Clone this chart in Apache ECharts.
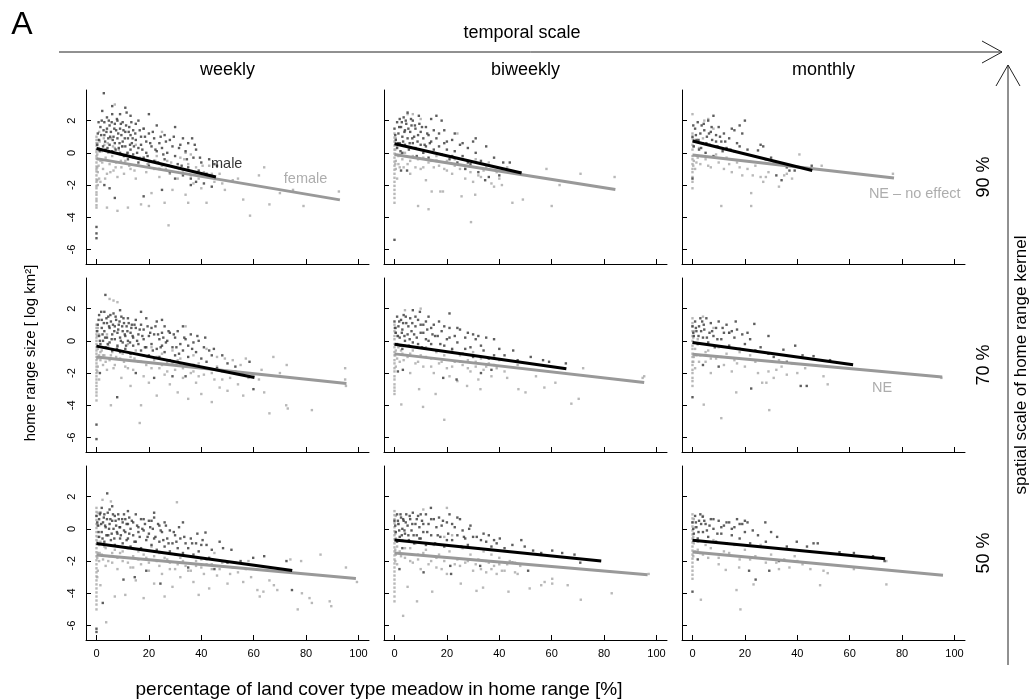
<!DOCTYPE html>
<html>
<head>
<meta charset="utf-8">
<script src="https://cdn.jsdelivr.net/npm/echarts@6/dist/echarts.min.js"></script>
<style>
html,body{margin:0;padding:0;background:#fff;}
#chart{width:1030px;height:700px;}
</style>
</head>
<body>
<div id="chart"></div>
<script>
// ---- labels and ticks ----
const temporalScales = ['weekly', 'biweekly', 'monthly'];
const kernelLevels = ['90 %', '70 %', '50 %'];
const xTicks = [0, 20, 40, 60, 80, 100];
const yTicks = [-6, -4, -2, 0, 2];

// ---- observations: [meadow %, log home range size] ----
// 90 % kernel
const maleW90 = [[0.5,1.2],[1,0.8],[1.5,1.6],[2,2.0],[2.5,0.4],[3,1.9],[3,1.1],[3.5,0.2],[4,1.5],[4,2.2],[4.5,0.9],[5,1.7],[5,0.5],[5.5,1.3],[6,2.4],[6,0.1],[6.5,1.0],[7,1.8],[7,0.6],[7.5,1.4],[8,0.9],[8,2.0],[8.5,0.3],[9,1.5],[9,0.0],[9.5,1.1],[10,0.7],[10,1.9],[10.5,-0.2],[11,1.3],[11,0.4],[11.5,2.5],[12,0.9],[12,-0.4],[12.5,1.6],[13,0.2],[13,1.1],[13.5,0.6],[14,1.4],[14,-0.1],[15,0.8],[15,1.8],[16,0.3],[16,-0.6],[17,1.0],[17,0.5],[18,1.5],[18,-0.3],[19,0.7],[19,0.0],[20,1.2],[20,-0.8],[21,0.4],[22,0.9],[22,-0.5],[23,1.7],[23,0.1],[24,0.6],[24,-1.0],[25,0.3],[26,1.1],[26,-0.4],[27,0.0],[28,0.8],[28,-1.2],[29,0.4],[30,-0.2],[30,1.6],[31,-0.7],[32,0.5],[33,-1.4],[33,0.9],[34,0.1],[35,-0.9],[35,0.6],[36,-1.6],[37,-0.3],[38,0.2],[38,-1.8],[39,-1.1],[40,-0.6],[41,-1.9],[42,-1.3],[43,-0.4],[44,-2.1],[45,-0.7],[46,-0.8],[3,-2.0],[7,-2.8],[5,-2.2],[18,-2.7],[25,-2.3],[36,-2.0],[30,-1.6],[0,-4.6],[0,-5.0],[0,-5.3],[2.8,3.7],[20,2.4],[11,2.8],
  [0.3,0.5],[0.8,1.9],[1.2,0.1],[1.8,1.1],[2.2,2.6],[2.7,1.4],[3.3,0.7],[3.8,1.3],[4.2,0.3],[4.7,2.0],[5.2,1.0],[5.8,1.9],[6.2,0.8],[6.8,1.5],[7.3,0.2],[7.8,2.1],[8.3,1.2],[8.8,0.6],[9.3,1.8],[9.8,0.4],[10.3,1.4],[10.8,0.9],[11.3,1.7],[11.8,0.0],[12.3,1.3],[12.8,0.5],[13.3,1.9],[13.8,0.9],[14.3,0.4],[14.8,1.2],[15.5,0.0],[16.5,1.4],[17.5,0.2],[18.5,1.0],[19.5,-0.2],[20.5,0.6],[21.5,1.3],[22.5,0.2],[23.5,-0.6],[24.5,1.0],[25.5,-0.1],[26.5,0.7],[27.5,-0.8],[29.5,1.0],[31.5,0.3],[34.5,-0.4],[36.5,0.9],[39.5,-0.3],[37.5,0.5],[32.5,-0.8],[16,2.0],[9,2.4],[6,2.9],[13,2.3]];
const femaleW90 = [[0,1.0],[0,0.6],[0,0.2],[0,-0.2],[0,-0.6],[0,-1.0],[0,-1.4],[0,-1.8],[0,-2.2],[0,-2.6],[0,-3.0],[0,-3.4],[0.5,0.8],[0.5,-0.4],[0.5,-1.2],[0.5,-2.0],[0.8,0.3],[0.8,-0.8],[1,-1.6],[1,1.3],[1.5,-0.5],[2,0.1],[2.5,-1.0],[3,0.5],[3.5,-0.3],[4,-1.3],[4.5,0.0],[5,-0.7],[5.5,0.9],[6,-0.2],[6.5,-1.1],[7,3.0],[7,0.3],[7.5,-0.6],[8,-1.5],[9,-0.1],[9.5,-0.9],[10,0.4],[10.5,-1.3],[11,-0.5],[12,-3.4],[12,0.0],[13,-1.0],[14,-0.3],[15,-1.6],[15,0.5],[16,-0.8],[17,-3.2],[18,-0.4],[18,1.5],[19,-1.2],[20,-0.6],[21,-2.5],[22,-1.0],[23,-0.2],[24,-1.5],[25,-0.8],[25,1.3],[26,-3.1],[27,-0.5],[27.5,-4.5],[28,-1.3],[29,-2.3],[30,-0.9],[31,-1.6],[32,-0.3],[33,-1.1],[34,-2.6],[34,0.0],[35,-0.7],[35,-3.1],[36,-1.4],[36,-0.1],[37,-1.9],[38,-0.9],[39,-1.6],[40,-2.2],[41,-1.2],[42,-3.1],[43,-0.8],[45,-1.8],[47,-1.3],[49,-2.3],[52,-1.7],[56,-2.9],[58.6,-3.9],[62,-1.4],[64,-0.9],[66,-3.2],[70,-2.5],[75,-2.3],[79,-3.3],[92.5,-2.4],[20,-3.3],[8,-3.6],[4,-3.4],
  [0,0.8],[0,0.45],[0,0.05],[0,-0.35],[0,-0.85],[0,-1.15],[0,-1.65],[0,-2.05],[0,-2.45],[0,-2.85],[0,-3.25],[0.3,-0.1],[0.3,-0.9],[0.3,-1.7],[0.3,0.6],[1.2,0.7],[1.5,-1.8],[2.2,-0.6],[2.8,0.9],[3.3,-1.6],[4.3,0.6],[5.3,-1.2],[6.3,0.4],[7.3,-0.9],[8.5,0.2],[9.3,-0.5],[11.5,-0.1],[12.5,-0.8],[14.5,-1.1],[16.5,-0.3],[19.5,-0.7],[22.5,-0.5],[26.5,-1.0],[28.5,-0.6],[31.5,-1.0],[33.5,-0.4],[37.5,-1.2],[40.5,-0.8],[44,-1.3],[48,-1.9],[54,-1.6]];
const maleB90 = [[0,1.5],[0.5,0.8],[1,1.9],[1,0.3],[1.5,1.2],[2,2.1],[2,0.6],[2.5,1.6],[3,0.0],[3,1.0],[3.5,2.2],[4,0.5],[4,1.4],[4.5,1.8],[5,2.5],[5,0.9],[5.5,0.2],[6,1.3],[6.5,1.7],[7,0.6],[7,2.0],[7.5,1.0],[8,0.3],[8,1.5],[8.5,-0.2],[9,1.1],[9.5,1.8],[10,0.5],[10,1.3],[11,0.0],[11,0.9],[12,1.6],[12,0.4],[13,-0.3],[13,1.1],[14,0.7],[14,2.1],[15,0.2],[16,0.9],[16,-0.5],[17,0.4],[17,1.2],[18,2.0],[18,-0.1],[19,0.6],[20,0.2],[21,-0.4],[22,0.8],[23,0.1],[24,-0.6],[25,0.5],[26,-0.2],[27,-1.0],[28,0.3],[29,-0.7],[30,0.7],[31,0.0],[32,-1.2],[33,-0.5],[34.6,-1.7],[36,-1.5],[38,-0.3],[40,-1.4],[41.5,-0.6],[44,-0.6],[2.5,-1.1],[4.8,-1.1],[0,-5.4],
  [0.3,1.1],[1.3,0.6],[1.8,1.6],[2.3,0.1],[2.8,1.9],[3.3,0.7],[3.8,1.3],[4.3,2.0],[5.3,1.5],[5.8,0.6],[6.3,2.1],[6.8,0.9],[7.8,1.7],[8.8,0.7],[9.3,2.3],[10.5,1.6],[11.5,0.5],[12.5,1.2],[13.5,0.6],[15,1.4],[16,2.3],[19,1.4],[20,0.7],[22,-0.2],[23,1.2],[26,0.6],[28,-0.6],[31,0.9],[35,0.4]];
const femaleB90 = [[0,1.2],[0,0.7],[0,0.2],[0,-0.3],[0,-0.8],[0,-1.3],[0,-1.8],[0,-2.3],[0,-2.8],[0.5,0.9],[0.5,-0.5],[0.5,-1.0],[1,0.4],[1,-1.6],[1.5,-0.2],[2,-0.9],[3,-0.4],[4,0.0],[5,2.4],[5,-0.7],[6,-1.3],[7,2.4],[7,-0.2],[8,-0.9],[9,-0.4],[9,-3.3],[10,2.1],[10,-1.0],[11,-0.3],[12,-1.7],[13,-0.6],[13,-3.5],[14.2,-2.4],[15,-0.9],[16,-0.2],[17.5,-2.4],[18.5,-2.4],[19,-1.0],[20,-0.5],[22,-1.3],[23,-0.4],[24,1.2],[25,-1.0],[25.6,-2.7],[27,-1.6],[28,-0.5],[29,-1.2],[29.2,-4.3],[30,-1.8],[30.8,-2.6],[31,-0.4],[32,-1.4],[34,-1.1],[36,-0.6],[37,-1.9],[38,-2.1],[40,-1.6],[41,-2.0],[43,-0.9],[45,-3.1],[48,-1.2],[49,-2.9],[58,-1.0],[60,-3.3],[63,-2.0],[71,-1.3],[84,-1.5],
  [0,0.95],[0,0.45],[0,-0.05],[0,-0.55],[0,-1.05],[0,-1.55],[0,-2.05],[0,-2.55],[0,-3.1],[0.3,0.2],[0.3,-0.7],[1.5,-0.7],[2.5,-0.1],[3.5,-0.9],[6,-0.5],[8,-0.3],[11,-0.9],[14,-0.5],[17,-0.8],[20,-1.1],[23,-0.8],[27,-1.0],[33,-1.5],[35,-0.9],[39,-1.2]];
const maleM90 = [[0,1.0],[0,-1.6],[0.5,0.4],[1,1.5],[1.5,0.8],[2,1.9],[2.5,0.2],[3,1.2],[3.5,1.7],[4,0.6],[4.5,1.4],[5,0.0],[5.5,1.0],[6,2.0],[6.5,0.5],[7,1.3],[7.5,0.8],[8,2.3],[8,-0.2],[9,1.1],[9.5,0.4],[10,1.6],[11,0.7],[11.5,0.1],[12,1.2],[13,0.3],[14,0.9],[15,1.5],[16,0.1],[17,0.6],[18,1.7],[19,1.2],[20,2.0],[21,0.2],[25,0.15],[26,0.5],[27,0.4],[28,-0.4],[30,-0.3],[32,-1.4],[34,-1.7],[36,-0.9],[37,-1.1],[39,-1.1],[45.5,-0.8],
  [0.3,1.7],[1.3,1.1],[2.3,0.8],[3.3,0.3],[4.3,1.8],[5.3,0.6],[6.3,1.2],[7.3,1.6],[9,0.7],[10.5,1.0],[12.5,0.7],[14.5,0.2],[16,1.4],[18,0.4]];
const femaleM90 = [[0,2.4],[0,1.2],[0,0.5],[0,-0.2],[0,-0.7],[0,-1.2],[0,-1.8],[0,-2.2],[0.5,0.8],[0.5,-0.5],[1,-1.0],[2,-0.3],[3,-0.7],[4,0.9],[4.5,2.0],[5,-0.4],[6,2.1],[7,-0.9],[8,1.5],[9,-0.1],[10,-0.6],[11,-3.3],[12,-1.0],[13,-0.3],[15,-1.2],[17,-0.6],[19,-1.4],[22.4,-3.3],[22.4,-2.5],[23,-1.4],[24,-0.8],[26,-1.5],[27,-1.8],[29,-1.2],[31,-0.6],[33,-2.1],[35,-1.4],[38,-1.6],[40.8,-0.1],[49.3,-0.8],[76.5,-1.3],
  [0,0.9],[0,0.2],[0,-0.4],[0,-1.0],[0,-1.5],[0.3,0.4],[0.3,-0.8],[1.5,-0.6],[2.5,0.3],[3.5,-0.2],[6,-0.8],[14,-0.7],[18,-0.9],[21,-1.0],[28,-1.5],[36,-1.3]];

// 70 % kernel
const maleW70 = [[0.5,1.0],[1,0.3],[1,1.6],[1.5,-0.2],[2,0.8],[2,1.3],[2.5,0.0],[3,1.8],[3,0.6],[3.4,2.85],[3.5,-0.4],[4,1.1],[4,0.2],[4.5,1.5],[5,-0.1],[5,0.8],[5.5,1.2],[6,0.4],[6,-0.6],[6.5,1.7],[7,0.1],[7,0.9],[7.5,1.3],[8,-0.3],[8,0.5],[8.5,1.0],[9,0.2],[9,-0.7],[9.5,1.5],[10,0.6],[10,-0.1],[10.5,1.1],[11,0.3],[11,-0.5],[11.5,0.9],[12,1.4],[12,0.0],[13,0.5],[13,-0.8],[13.5,1.0],[14,0.2],[14,-0.3],[15,0.8],[15,1.3],[16,-0.2],[16,0.4],[17,1.0],[17,-0.6],[18,0.1],[18,0.7],[19,-0.4],[19,1.4],[20,0.3],[20,-0.9],[21,0.8],[21,-0.2],[22,0.4],[23,-0.5],[23,1.2],[24,0.1],[24,-1.0],[25,0.5],[25,-0.3],[26,0.9],[26,-0.7],[27,0.0],[28,-1.2],[28,0.5],[29,-0.4],[30,0.2],[30,-0.9],[31,0.6],[32,-0.2],[32,-1.4],[33,0.9],[33,-0.6],[34,0.1],[35,-1.0],[35,-0.3],[36,0.4],[37,-1.5],[37,-0.1],[38,-0.7],[39,0.0],[40,-1.1],[41,-0.4],[42,-1.3],[43,-0.6],[44.8,-0.5],[46,-1.7],[48,-0.9],[50,-1.4],[53,-1.6],[58.4,-1.3],[59.9,-3.0],[1.3,-2.0],[7.9,-3.5],[29,-2.2],[15,-2.0],[22,-2.3],[34,-2.2],[0,-5.2],[0,-6.1],
  [0.3,0.6],[0.8,1.3],[1.3,0.0],[1.8,1.8],[2.3,0.4],[2.8,1.1],[3.3,0.2],[3.8,1.4],[4.3,-0.2],[4.8,0.9],[5.3,1.6],[5.8,0.1],[6.3,1.0],[6.8,0.6],[7.3,1.5],[7.8,-0.5],[8.3,0.7],[8.8,1.2],[9.3,0.0],[9.8,0.9],[10.3,1.4],[10.8,0.4],[11.3,-0.3],[11.8,0.6],[12.3,1.1],[12.8,-0.1],[13.3,0.8],[13.8,0.3],[14.5,1.0],[15.5,0.0],[16.5,0.7],[17.5,0.3],[18.5,-0.4],[19.5,0.9],[20.5,0.5],[21.5,-0.6],[22.5,0.9],[23.5,0.4],[24.5,-0.4],[25.5,0.2],[26.5,-0.1],[27.5,0.6],[29.5,0.4],[30.5,-0.4],[31.5,-0.8],[33.5,0.2],[36.5,-0.5],[38.5,0.3],[41.5,0.2],[44,-0.9],[17,1.8],[9,1.9],[25,1.3]];
const femaleW70 = [[0,1.0],[0,0.6],[0,0.2],[0,-0.2],[0,-0.6],[0,-1.0],[0,-1.4],[0,-1.8],[0,-2.2],[0,-2.6],[0,-3.0],[0,-3.4],[0,-3.7],[0.5,0.8],[0.5,-0.5],[0.5,-1.6],[1,-0.9],[1,-2.4],[1,0.4],[1.5,-1.2],[2,-0.6],[2.5,-1.5],[3,-0.9],[4,-1.8],[4.5,-0.3],[5,-1.2],[5,2.6],[5.5,-4.0],[6,-0.7],[6.5,2.5],[7,-1.5],[8,2.4],[8,-0.4],[9,-1.1],[9.5,-2.3],[10,-0.8],[11,-1.6],[12,-0.2],[13,-2.8],[13,-1.0],[14,-1.8],[15,-0.6],[16,-1.3],[16.5,-5.1],[17,-4.0],[18,-2.2],[18,-0.9],[19,-1.5],[20,-2.6],[21,-0.4],[22,-1.2],[23,-3.4],[24,-1.7],[25,-0.8],[26,-2.1],[27,-1.3],[28,-2.7],[29,-0.6],[30,-1.8],[31,-3.2],[32,-1.1],[33,-2.3],[34,0.9],[34,-1.5],[35,-3.6],[36,-2.0],[37,-0.9],[38,-2.6],[39,-1.4],[40,-3.3],[41,-2.1],[42,-0.5],[43,-1.7],[44,-3.8],[45,-2.4],[46,-1.0],[47,-2.9],[48,-1.9],[49,-1.1],[50,-3.1],[51,-2.3],[52,-1.2],[54,-2.7],[56,-3.4],[57,-1.1],[60,-2.1],[62,-2.4],[64,-3.2],[66,-4.5],[67.5,-1.0],[70,-2.0],[72.6,-1.5],[72.4,-4.0],[73,-4.2],[82.2,-4.3],[94.9,-1.7],[94.9,-2.4],[95.2,-2.8],
  [0,0.8],[0,0.4],[0,0.0],[0,-0.4],[0,-0.8],[0,-1.2],[0,-1.6],[0,-2.0],[0,-2.4],[0,-2.8],[0,-3.2],[0.3,-0.3],[0.3,-1.1],[0.3,-1.9],[0.3,0.3],[1.5,-0.7],[2.5,-0.9],[3.5,-1.3],[4,0.4],[5.5,-0.9],[6.5,-1.7],[7.5,-1.0],[9,-0.6],[10.5,-1.3],[12,-1.7],[14.5,-1.1],[17,-1.3],[19.5,-1.0],[21,-1.7],[23,-1.0],[25,-1.5],[27,-1.9],[29,-1.4],[31,-1.2],[33,-1.7],[35,-1.5],[37,-1.9],[39,-2.2],[42,-1.7],[44,-2.0],[46,-1.6],[48,-2.4],[53,-1.9],[55,-1.5],[58,-2.3],[63,-1.8]];
const maleB70 = [[0,1.2],[0.5,0.5],[1,1.5],[1,-0.2],[1.5,0.9],[2,0.2],[2.5,1.3],[3,-0.5],[3,0.7],[3.5,1.6],[4,0.0],[4.5,1.1],[5,0.4],[5.5,-0.3],[6,1.4],[6.5,0.6],[7,1.9],[7,-0.1],[8,0.9],[8.5,0.2],[9,1.3],[9.7,1.8],[10,0.5],[10.5,-0.4],[11,1.0],[12,0.1],[12.5,0.7],[13,1.5],[14,-0.2],[14.5,0.4],[15,1.0],[16,-0.6],[16.5,0.3],[17,1.2],[18,0.6],[19,-0.3],[20,0.1],[21,0.8],[21,1.7],[22,-0.5],[23,0.3],[24,-0.1],[25,0.7],[26,-0.8],[27,0.2],[28,0.5],[29,-0.4],[30,-1.0],[31,0.1],[32,0.3],[34,-0.6],[35,0.2],[36,-1.1],[38,-0.9],[40,-0.5],[42,-0.9],[45.3,-0.6],[47,-1.2],[52,-1.0],[56.7,-1.2],[59,-1.3],[65.4,-1.4],[1.3,-1.9],[3.2,-1.8],[18.6,-2.3],[23.7,-2.4],[37,-1.8],[33,-2.0],
  [0.3,0.8],[1.3,0.3],[1.8,1.2],[2.3,-0.3],[2.8,0.5],[3.3,1.1],[3.8,0.3],[4.3,1.5],[5.3,0.9],[5.8,0.1],[6.8,1.1],[7.5,0.4],[8,1.5],[9,-0.2],[10,1.0],[11,0.5],[12,1.2],[13,0.0],[14,0.8],[15.5,0.3],[17.5,-0.2],[19,0.9],[21,0.2],[24,0.8],[27,-0.5],[30,0.4],[33,-0.3],[38,0.1]];
const femaleB70 = [[0,1.0],[0,0.6],[0,0.1],[0,-0.4],[0,-0.9],[0,-1.4],[0,-1.9],[0,-2.4],[0,-2.9],[0,-3.3],[0.5,0.8],[0.5,-0.6],[0.5,-1.6],[1,0.3],[1,-1.1],[1.5,-0.4],[2,-1.3],[2.6,-3.95],[3,-0.8],[4,1.9],[4,-0.3],[5,-1.0],[6,-2.0],[7,-0.6],[8,-1.4],[9.4,-3.0],[10,-0.9],[10,2.0],[10.9,-4.1],[11,-1.6],[12,-0.4],[14,-1.1],[15,-2.0],[15.7,-3.3],[16,-0.7],[17,-1.4],[19,-4.9],[19,-0.9],[20,-1.7],[21,-2.2],[22,-0.6],[23,-1.3],[24,-2.5],[25,-0.9],[26,-1.5],[27.7,-2.8],[28,-1.2],[29,-1.9],[30,-0.7],[31,-1.6],[32,-2.4],[32.8,-3.0],[33,-1.1],[34,-1.8],[36,-1.4],[37,-2.2],[39,-1.7],[40,-1.2],[43,-2.3],[47.3,-3.0],[47,-1.5],[50,-3.2],[54,-2.2],[57.2,-2.9],[61.4,-2.6],[67.5,-3.9],[70.3,-3.6],[72,-1.7],[94.7,-2.3],[95.3,-2.2],
  [0,0.8],[0,0.3],[0,-0.2],[0,-0.7],[0,-1.2],[0,-1.7],[0,-2.2],[0,-2.7],[0,-3.1],[0.3,0.5],[0.3,-0.9],[2.5,-0.6],[3.5,-1.2],[6,-0.8],[9,-1.3],[12,-1.0],[14,-1.6],[18,-1.3],[22,-1.6],[25,-1.3],[28,-1.7],[31,-1.3],[35,-1.6],[38,-1.5],[42,-1.9]];
const maleM70 = [[0,0.9],[0,-3.5],[0.5,0.3],[1,1.2],[1.5,0.6],[2,-0.2],[2.5,0.9],[3,1.4],[3.7,1.2],[4,0.2],[4.5,0.7],[5.3,1.4],[6,-0.1],[6.5,0.5],[7,1.1],[8,0.3],[8.5,-0.4],[9,0.8],[10,1.2],[11,0.1],[12,0.5],[13,1.0],[14,-0.3],[15,0.6],[16,0.2],[17,0.7],[18,-0.5],[19,0.4],[20,-0.2],[22,0.1],[23.6,1.05],[24,-0.6],[26,-0.4],[29,0.3],[29,-0.8],[31,-1.0],[34.7,-0.55],[36,-1.3],[39.2,-0.3],[42,-0.9],[46.2,-0.95],[52.5,-1.2],[22.4,-2.96],[41.3,-2.8],[43.6,-2.8],[10,-1.6],[4,-1.5],
  [0.3,0.5],[1.3,0.8],[2.3,0.3],[3.3,0.6],[4.3,1.0],[5.5,0.2],[7.5,0.6],[9.5,0.1],[11.5,0.8],[14,0.5],[16.5,1.2],[21,0.5]];
const femaleM70 = [[0,1.4],[0,0.9],[0,0.3],[0,-0.3],[0,-0.8],[0,-1.3],[0,-1.8],[0,-2.3],[0,-2.8],[0.5,0.6],[0.5,-1.0],[1,-0.5],[1,-1.7],[2,0.1],[3,-0.9],[4,1.5],[4.3,-3.96],[5,-1.3],[6,-0.6],[7,-2.0],[8,0.8],[9,-1.1],[10,-0.4],[11,-4.8],[12,-1.5],[13,-0.8],[14,0.5],[15,-1.9],[16,-1.2],[16.7,-3.2],[18,-0.7],[20,-1.6],[22,-0.9],[25,-2.0],[26.6,-2.6],[28.2,-2.6],[29,-1.9],[29.3,-4.3],[31,-2.3],[33,-1.2],[34,-1.6],[36,-2.1],[38,-1.4],[40,-2.0],[43,-1.7],[50,-2.2],[51.6,-2.7],[95,-2.3],
  [0,1.1],[0,0.6],[0,0.0],[0,-0.5],[0,-1.0],[0,-1.5],[0,-2.0],[0,-2.5],[0.3,0.2],[0.3,-1.3],[1.5,-0.9],[2.5,-1.3],[5,-0.7],[7,-1.1],[11,-1.0],[17,-1.4],[24,-1.3],[32,-1.8]];

// 50 % kernel
const maleW50 = [[0,0.8],[0.5,0.2],[1,0.6],[1,-0.5],[1.5,1.0],[2,-0.2],[2.5,0.4],[3,0.9],[3,-0.8],[3.5,0.1],[4.1,2.2],[4,0.6],[4.5,-0.4],[5,0.3],[5,1.2],[5.5,-0.7],[6,0.5],[6.5,0.0],[7,0.8],[7,-1.0],[7.5,0.2],[8,-0.3],[8.5,0.6],[9,-0.6],[9,0.1],[10,0.4],[10,-0.9],[10.5,0.9],[11,-0.2],[11.5,0.3],[12,-0.6],[12.5,0.7],[13,0.0],[13,-1.1],[14,0.4],[14,-0.4],[15,0.9],[15,-0.8],[16,0.1],[16.5,-0.5],[17,0.6],[17,-1.2],[18,-0.1],[18.5,0.3],[19,-0.7],[20,0.5],[20,-0.3],[21,-1.0],[21.5,0.0],[22,0.7],[22.5,-0.5],[23,-1.3],[24,0.2],[24,-0.8],[25,-0.2],[26,0.4],[26,-1.1],[27,-0.6],[28,-1.4],[28,-0.1],[29,-0.9],[30,-0.4],[31,-1.2],[32,-0.6],[33,0.4],[33,-1.5],[34,-0.9],[35,-1.2],[36,-0.6],[37,-1.6],[38,-0.9],[39,-1.4],[40,-1.0],[41.6,-0.23],[43,-1.8],[44,-1.3],[47,-0.8],[48.3,-1.2],[50,-2.1],[51.5,-1.3],[55,-2.0],[59.8,-1.8],[64,-1.7],[72.5,-2.0],[74.6,-3.8],[10.3,-3.15],[14.6,-3.0],[24.4,-3.4],[19,-2.6],[2.4,-4.6],[35,-2.4],[45,-2.5],[0,-6.2],[0,-6.4],
  [0.3,0.4],[0.8,-0.2],[1.3,0.9],[1.8,0.3],[2.3,-0.6],[2.8,0.7],[3.3,0.2],[3.8,-0.4],[4.3,1.0],[4.8,0.0],[5.3,0.6],[5.8,-0.3],[6.3,0.9],[6.8,-0.6],[7.3,0.5],[7.8,-0.2],[8.3,0.9],[8.8,0.1],[9.3,-0.4],[9.8,0.6],[10.5,-0.1],[11,0.6],[11.5,-0.7],[12,0.3],[12.5,-0.3],[13.5,0.5],[14.5,-0.8],[15.5,0.2],[16,-0.2],[17.5,0.0],[18,0.6],[19.5,-0.5],[20.5,0.1],[21,0.5],[22,-0.6],[23.5,0.3],[24.5,-0.1],[25.5,-0.7],[26.5,0.2],[27.5,-0.9],[29.5,-0.2],[30.5,-0.8],[31.5,0.1],[33.5,-0.5],[36.5,-0.9],[38.5,-0.3],[40.5,-0.7],[42,-1.0],[2,1.3],[6,1.4],[12,1.1],[22,1.0]];
const femaleW50 = [[0,1.3],[0,0.8],[0,0.3],[0,-0.2],[0,-0.7],[0,-1.2],[0,-1.7],[0,-2.2],[0,-2.7],[0,-3.2],[0,-3.7],[0,-4.2],[0,-4.7],[0,-5.0],[0.5,1.0],[0.5,-0.5],[0.5,-1.5],[0.5,-2.6],[1,0.2],[1,-1.0],[1,-2.0],[1.5,-0.8],[1.5,-3.5],[3.7,-5.8],[2,-1.6],[2.3,1.8],[3,-1.1],[3.5,-2.3],[4,-0.4],[5,-1.7],[5.5,1.7],[6,-2.1],[7,-1.3],[7,-4.2],[8,-2.5],[9,-1.5],[10,-2.0],[11,-4.1],[12,-1.2],[13,-2.4],[14,-1.7],[15,-3.2],[16,-1.4],[17,-2.2],[18,-4.3],[19,-1.8],[20,-2.6],[21,-1.1],[22,-3.4],[23,-2.0],[24,-1.5],[25,-2.8],[26,-4.2],[27,-1.9],[28,-2.5],[29,-3.6],[30,-1.6],[30.7,1.65],[31,-2.2],[32,-3.0],[33,-2.0],[35,-2.6],[36,-1.7],[37,-3.3],[38,-2.3],[39,-4.1],[40,-1.9],[41,-2.8],[42,-2.2],[43,-3.7],[44,-2.5],[45,-1.5],[46,-2.9],[48,-2.1],[50,-3.4],[52,-2.4],[54,-2.7],[56,-3.3],[58,-2.0],[59,-3.0],[61.4,-3.8],[62.3,-4.2],[63.7,-3.9],[66,-3.2],[67.7,-3.5],[69,-3.8],[74,-1.9],[76.8,-5.0],[78.1,-2.0],[78.4,-4.0],[81.3,-4.3],[82.2,-4.6],[85.5,-1.6],[89,-4.5],[89.6,-4.8],[95.2,-2.4],[99.4,-3.3],
  [0,1.05],[0,0.55],[0,0.05],[0,-0.45],[0,-0.95],[0,-1.45],[0,-1.95],[0,-2.45],[0,-2.95],[0,-3.45],[0,-3.95],[0,-4.45],[0.3,0.3],[0.3,-0.8],[0.3,-1.8],[0.3,-3.0],[1.2,-1.5],[2.5,-1.9],[3.5,-1.2],[4.5,-2.0],[6,-1.5],[8,-1.8],[10,-1.4],[12,-2.1],[14,-2.4],[16,-1.9],[18,-1.6],[20,-2.1],[22,-1.7],[24,-2.3],[26,-1.8],[28,-2.1],[30,-2.5],[32,-1.8],[34,-2.3],[36,-2.6],[38,-2.0],[40,-2.4],[42,-1.9],[44,-2.2],[47,-2.5],[49,-2.0],[51,-2.8],[53,-2.1],[57,-2.5]];
const maleB50 = [[0,0.5],[0.5,-0.2],[1,0.9],[1,-0.8],[1.5,0.3],[2,-0.5],[2.5,0.7],[3,0.0],[3,-1.2],[3.5,0.5],[4,-0.3],[4.5,0.9],[5,0.2],[5.5,-0.7],[6,0.6],[6.5,-0.1],[7,1.0],[7.5,-0.9],[8,0.3],[8.5,-0.4],[9,0.8],[9.5,0.1],[10,-0.6],[10.5,0.5],[11,-0.2],[12,0.9],[12,-1.0],[13,0.3],[13.9,1.3],[14,-0.4],[15,0.6],[15.5,-0.9],[16,0.1],[17,0.7],[17.5,-0.5],[18,0.2],[19,-1.1],[20,0.4],[20.5,-0.3],[21,0.9],[22,-0.7],[23,0.1],[24,-0.4],[25,0.6],[25.5,-1.1],[26,-0.1],[27,-0.6],[28,-1.0],[29,0.2],[30,-0.5],[31.4,-0.5],[32,-1.2],[34,-0.3],[35,-0.8],[37,-1.1],[38,-0.7],[40.2,-0.6],[42,-1.2],[45,-1.0],[48.4,-0.7],[49.7,-1.1],[52.9,-1.35],[56,-1.5],[60.2,-1.35],[64,-1.5],[68.7,-1.6],[70.9,-2.1],[1.9,-2.5],[11.1,-2.7],[21.3,-2.3],[21.6,-2.8],[32.7,-2.3],[51,-2.6],[45,-2.1],
  [0.3,0.2],[1.3,0.5],[1.8,-0.1],[2.3,0.9],[2.8,-0.4],[3.3,0.6],[3.8,-0.1],[4.3,0.4],[5.3,-0.4],[5.8,0.8],[6.8,0.3],[7.3,-0.4],[8.5,0.6],[9.5,-0.6],[10,0.9],[11,0.3],[12.5,-0.2],[14,0.6],[16.5,-0.4],[18.5,0.5],[20,-0.7],[22,0.3],[24,0.7],[26.5,-0.5],[28.5,0.0],[33,-0.7],[36,-0.4],[39,-0.9]];
const femaleB50 = [[0,1.1],[0,0.6],[0,0.1],[0,-0.4],[0,-0.9],[0,-1.4],[0,-1.9],[0,-2.4],[0,-2.9],[0,-3.4],[0,-3.9],[0,-4.5],[0.5,0.8],[0.5,-0.6],[0.5,-1.6],[1,-1.1],[1,-2.2],[3.3,-5.4],[1.5,0.3],[2,-1.4],[3,-0.7],[4,-1.8],[5,-3.6],[6,-1.2],[7,-2.1],[8,-0.9],[8.6,-4.5],[9,-1.6],[10,-2.5],[11,1.2],[12,-1.3],[14.4,-3.9],[14,-2.0],[15,-1.0],[16,-2.4],[17,-1.6],[18,-2.5],[19,-0.5],[20,1.3],[20,-2.8],[21,-1.4],[22,-0.4],[24,-1.9],[25,-2.3],[25.3,-3.4],[26,-1.2],[28,-2.0],[29,-1.6],[30,-2.6],[31.3,-3.85],[32,-1.9],[33,-2.5],[33.8,-3.65],[34,-1.4],[35,-2.7],[36,-2.1],[37,-1.6],[38,-2.3],[39,-2.8],[40,-1.8],[41,-2.6],[43.5,-3.9],[43,-2.2],[46,-2.1],[47,-2.8],[51.6,-3.7],[56,-3.5],[57.3,-3.3],[60.2,-3.1],[60.2,-3.4],[66.1,-3.5],[71.1,-4.4],[82.9,-4.0],[97,-2.8],
  [0,0.85],[0,0.35],[0,-0.15],[0,-0.65],[0,-1.15],[0,-1.65],[0,-2.15],[0,-2.65],[0,-3.15],[0,-3.65],[0,-4.2],[0.3,-0.3],[0.3,-1.3],[0.3,-2.0],[2.5,-1.7],[4,-1.2],[6,-2.0],[9,-1.9],[11,-1.5],[13,-2.2],[16,-1.8],[19,-2.0],[23,-2.2],[27,-2.1],[31,-2.2],[35,-2.0],[37,-2.5],[40,-2.2],[42,-2.6],[44,-2.0],[46,-2.7],[48,-2.3]];
const maleM50 = [[0,0.4],[0,-3.9],[0.5,-0.3],[1,0.8],[1.5,0.1],[2,-0.6],[2.5,0.5],[3,0.9],[3.9,0.75],[4,-0.2],[5,0.3],[6,-0.5],[7,0.6],[8,0.0],[9,-0.8],[10,0.5],[11,-0.3],[12,0.2],[13,-0.9],[14,0.4],[15,-0.4],[16,0.1],[17,0.6],[18,-0.6],[19,0.3],[20,-0.2],[21,0.4],[22,-0.9],[23,-0.1],[25,-0.4],[27.8,0.4],[28,-0.8],[30,-0.2],[32.3,-0.5],[36,-1.1],[39.8,-0.8],[43.7,-1.1],[46.2,-0.9],[47.8,-0.9],[56.1,-1.45],[61.6,-1.5],[68.9,-1.7],[73.3,-2.0],[24.1,-3.15],[21.6,-2.6],[29.3,-2.6],[33,-2.0],[2,-1.9],
  [0.3,0.0],[1.3,0.4],[2.3,-0.2],[3.3,0.3],[4.5,0.5],[5.5,-0.1],[6.5,0.2],[8,0.6],[9.5,-0.3],[11,0.1],[13,0.4],[15,0.0],[18,0.3],[20,0.5]];
const femaleM50 = [[0,0.9],[0,0.4],[0,-0.1],[0,-0.6],[0,-1.1],[0,-1.6],[0,-2.1],[0,-2.6],[0,-3.1],[0.5,0.6],[0.5,-0.9],[1,-1.4],[1,0.1],[2,-0.8],[3.2,-4.4],[3,-1.5],[4,0.8],[5,-1.0],[6,-1.8],[8,-0.7],[10,-2.2],[12,-1.4],[12.7,-2.55],[16.8,-3.8],[16,-1.0],[17.8,-2.4],[18.3,-5.0],[18,-1.9],[20,-1.3],[23.3,-3.45],[24,-1.7],[26,-1.0],[28,-2.1],[30,-1.6],[33,-2.5],[35,-1.9],[37,-2.4],[39,-1.7],[42,-2.2],[45,-2.5],[48.7,-3.5],[50,-2.6],[51.6,-2.75],[61.6,-2.5],[74,-3.45],[74,-2.0],
  [0,0.65],[0,0.15],[0,-0.35],[0,-0.85],[0,-1.35],[0,-1.85],[0,-2.35],[0,-2.85],[0.3,-0.5],[0.3,-1.7],[2,-1.3],[4,-1.6],[7,-1.2],[10,-1.8],[14,-1.5],[22,-1.9],[32,-2.1],[40,-2.0]];

// ---- fitted regression lines, row by row (90 %, 70 %, 50 %), weekly -> monthly ----
const maleFitLines = [
  [[0,0.27],[45.6,-1.5]], [[0,0.56],[48.5,-1.25]], [[0,0.73],[45.7,-1.1]],
  [[0,-0.33],[60.3,-2.27]], [[0,-0.21],[65.6,-1.73]], [[0,-0.1],[61.3,-1.48]],
  [[0,-0.91],[74.7,-2.58]], [[0,-0.69],[78.9,-2.0]], [[0,-0.71],[73.5,-1.85]]
];
const femaleFitLines = [
  [[0,-0.36],[92.9,-2.92]], [[0,-0.1],[84.3,-2.27]], [[0,-0.13],[76.9,-1.56]],
  [[0,-1.0],[95.4,-2.65]], [[0,-0.81],[95.3,-2.59]], [[0,-0.83],[95.3,-2.25]],
  [[0,-1.62],[99,-3.08]], [[0,-1.5],[96.6,-2.85]], [[0,-1.44],[95.6,-2.88]]
];
const malePoints = [maleW90, maleB90, maleM90, maleW70, maleB70, maleM70, maleW50, maleB50, maleM50];
const femalePoints = [femaleW90, femaleB90, femaleM90, femaleW70, femaleB70, femaleM70, femaleW50, femaleB50, femaleM50];

// in-panel annotations: [panel index, x, y, text, colour]
const annotations = [
  [0, 49.7, -0.67, 'male', '#000'],
  [0, 79.8, -1.63, 'female', '#999'],
  [2, 84.8, -2.56, 'NE \u2013 no effect', '#999'],
  [5, 72.4, -2.9, 'NE', '#999']
];

// ---- layout ----
const FONT = '"Liberation Sans", Arial, Helvetica, sans-serif';
const colLeft = [86, 384, 682];
const rowTop = [90, 278, 466];
const panelW = 283, panelH = 174;
const MALE_PT = '#363636', FEMALE_PT = '#a6a6a6';
const MALE_LN = '#000000', FEMALE_LN = '#999999';

const grids = [], xAxes = [], yAxes = [], series = [];
for (let r = 0; r < 3; r++) {
  for (let c = 0; c < 3; c++) {
    const i = r * 3 + c;
    grids.push({ left: colLeft[c], top: rowTop[r], width: panelW, height: panelH });
    xAxes.push({
      type: 'value', gridIndex: i, min: -4, max: 104,
      axisLine: { show: true, onZero: false, lineStyle: { color: '#000', width: 1 } },
      axisTick: { show: true, inside: true, length: 5, customValues: xTicks, lineStyle: { color: '#000' } },
      axisLabel: { show: r === 2, customValues: xTicks, fontFamily: FONT, fontSize: 11, color: '#000', margin: 8 },
      splitLine: { show: false }
    });
    yAxes.push({
      type: 'value', gridIndex: i, min: -6.9, max: 3.9,
      axisLine: { show: true, onZero: false, lineStyle: { color: '#000', width: 1 } },
      axisTick: { show: true, inside: true, length: 5, customValues: yTicks, lineStyle: { color: '#000' } },
      axisLabel: { show: c === 0, customValues: yTicks, rotate: 90, fontFamily: FONT, fontSize: 11, color: '#000', margin: 9 },
      splitLine: { show: false }
    });
    series.push({
      type: 'scatter', xAxisIndex: i, yAxisIndex: i, data: femalePoints[i],
      symbol: 'rect', symbolSize: 2.4, itemStyle: { color: FEMALE_PT }, silent: true
    });
    series.push({
      type: 'scatter', xAxisIndex: i, yAxisIndex: i, data: malePoints[i],
      symbol: 'rect', symbolSize: 2.4, itemStyle: { color: MALE_PT }, silent: true
    });
    series.push({
      type: 'line', xAxisIndex: i, yAxisIndex: i, data: femaleFitLines[i],
      symbol: 'none', lineStyle: { color: FEMALE_LN, width: 3, cap: 'butt' }, silent: true
    });
    series.push({
      type: 'line', xAxisIndex: i, yAxisIndex: i, data: maleFitLines[i],
      symbol: 'none', lineStyle: { color: MALE_LN, width: 3, cap: 'butt' }, silent: true
    });
  }
}
annotations.forEach(([i, x, y, txt, col]) => {
  series.push({
    type: 'scatter', xAxisIndex: i, yAxisIndex: i, data: [[x, y]],
    symbolSize: 0, silent: true,
    label: { show: true, position: 'inside', formatter: txt, color: col, fontFamily: FONT, fontSize: 14.5 }
  });
});

// ---- outer titles and scale arrows ----
const graphics = [
  { type: 'text', x: 22, y: 25, style: { text: 'A', font: '32px ' + FONT, fill: '#000', align: 'center', verticalAlign: 'middle' } },
  { type: 'text', x: 522, y: 33, style: { text: 'temporal scale', font: '18px ' + FONT, fill: '#000', align: 'center', verticalAlign: 'middle' } },
  { type: 'polyline', shape: { points: [[59, 52], [1002, 52]] }, style: { stroke: '#222', lineWidth: 1, fill: null } },
  { type: 'polyline', shape: { points: [[982, 41], [1002, 52], [982, 63]] }, style: { stroke: '#222', lineWidth: 1, fill: null } },
  { type: 'polyline', shape: { points: [[1008, 665], [1008, 65]] }, style: { stroke: '#222', lineWidth: 1, fill: null } },
  { type: 'polyline', shape: { points: [[996, 86], [1008, 65], [1020, 86]] }, style: { stroke: '#222', lineWidth: 1, fill: null } },
  { type: 'text', x: 1021, y: 365, rotation: Math.PI / 2, style: { text: 'spatial scale of home range kernel', font: '17px ' + FONT, fill: '#000', align: 'center', verticalAlign: 'middle' } },
  { type: 'text', x: 31, y: 353, rotation: Math.PI / 2, style: { text: 'home range size [ log km\u00b2]', font: '15px ' + FONT, fill: '#000', align: 'center', verticalAlign: 'middle' } },
  { type: 'text', x: 379, y: 690, style: { text: 'percentage of land cover type meadow in home range [%]', font: '19px ' + FONT, fill: '#000', align: 'center', verticalAlign: 'middle' } }
];
temporalScales.forEach((t, c) => {
  graphics.push({ type: 'text', x: colLeft[c] + panelW / 2, y: 70, style: { text: t, font: '18px ' + FONT, fill: '#000', align: 'center', verticalAlign: 'middle' } });
});
kernelLevels.forEach((k, r) => {
  graphics.push({ type: 'text', x: 984, y: rowTop[r] + panelH / 2, rotation: Math.PI / 2, style: { text: k, font: '18px ' + FONT, fill: '#000', align: 'center', verticalAlign: 'middle' } });
});

const chart = echarts.init(document.getElementById('chart'), null, { renderer: 'canvas' });
chart.setOption({
  animation: false,
  backgroundColor: '#fff',
  grid: grids,
  xAxis: xAxes,
  yAxis: yAxes,
  series: series,
  graphic: graphics
});
</script>
</body>
</html>
